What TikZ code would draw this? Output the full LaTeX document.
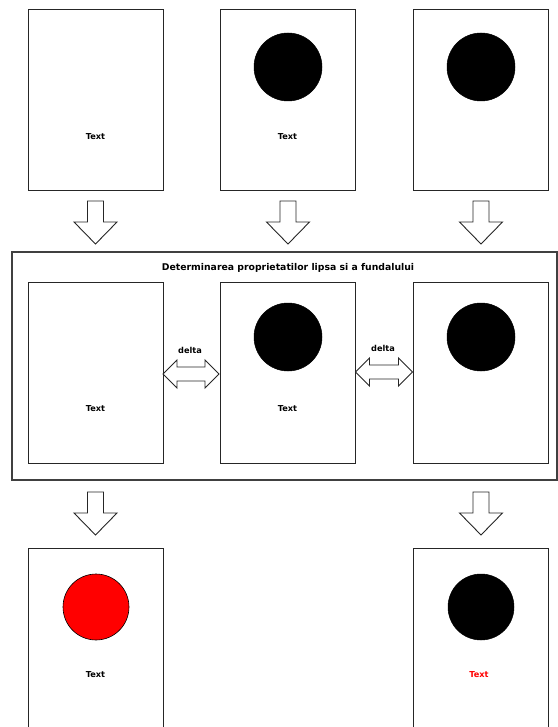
\documentclass[tikz,border=0pt]{standalone}
\usepackage{fontspec}
\setmainfont{DejaVu Sans}
\begin{document}
\begin{tikzpicture}[x=1pt,y=-1pt,
  box/.style={draw=black!85,line width=1pt,minimum width=135pt,minimum height=181pt,inner sep=0pt},
  lbl/.style={font=\fontsize{8.2}{9}\selectfont\bfseries,inner sep=0pt},
  ttl/.style={font=\fontsize{9.3}{10}\selectfont\bfseries,inner sep=0pt},
  blk/.style={fill=black,draw=black,line width=0.5pt},
  blkarrow/.style={draw=black!85,line width=0.9pt,fill=white,line join=miter},
  frame/.style={draw=black!75,line width=1.2pt}]
\useasboundingbox (0,0) rectangle (557,727);
% top row
\node[box] (t1) at (95.5,100.5) {};
\node[box] (t2) at (287.5,100.5) {};
\node[box] (t3) at (480.5,100.5) {};
\node[lbl] (t1l) at (95.5,137) {Text};
\node[lbl] (t2l) at (287.5,137) {Text};
\node[blk,circle,minimum size=68pt,inner sep=0pt] (t2c) at (288,67) {};
\node[blk,circle,minimum size=68pt,inner sep=0pt] (t3c) at (481,67) {};
% big frame
\node[frame,minimum width=545pt,minimum height=228pt,inner sep=0pt] (fr) at (284.5,366) {};
\node[ttl] (title) at (288,268) {Determinarea proprietatilor lipsa si a fundalului};
% middle row
\node[box] (m1) at (95.5,373) {};
\node[box] (m2) at (287.5,373) {};
\node[box] (m3) at (480.5,373) {};
\node[lbl] (m1l) at (95.5,409) {Text};
\node[lbl] (m2l) at (287.5,409) {Text};
\node[blk,circle,minimum size=68pt,inner sep=0pt] (m2c) at (288,337) {};
\node[blk,circle,minimum size=68pt,inner sep=0pt] (m3c) at (481,337) {};
\node[lbl] (d1) at (190,350) {delta};
\node[lbl] (d2) at (383,348) {delta};
% bottom row
\node[box,minimum height=200pt] (b1) at (95.5,648) {};
\node[box,minimum height=200pt] (b3) at (480.5,648) {};
\node[draw=black,line width=0.6pt,fill=red,circle,minimum size=66pt,inner sep=0pt] (b1c) at (96,607) {};
\node[blk,circle,minimum size=66pt,inner sep=0pt] (b3c) at (481,607) {};
\node[lbl] (b1l) at (95.5,675) {Text};
\node[lbl,text=red] (b3l) at (479,675) {Text};
% down block arrows
\foreach \cx/\ty in {95.5/201, 288/201, 481/201, 95.5/492, 481/492}{
  \draw[blkarrow] (\cx-8,\ty) -- (\cx+8,\ty) -- (\cx+8,\ty+21) -- (\cx+21.5,\ty+21)
    -- (\cx,\ty+43) -- (\cx-21.5,\ty+21) -- (\cx-8,\ty+21) -- cycle;
}
% double block arrows
\foreach \xa/\xb/\cy in {163/219/374, 355.5/412.5/372}{
  \draw[blkarrow] (\xa,\cy) -- (\xa+14,\cy-14) -- (\xa+14,\cy-7) -- (\xb-14,\cy-7)
    -- (\xb-14,\cy-14) -- (\xb,\cy) -- (\xb-14,\cy+14) -- (\xb-14,\cy+7)
    -- (\xa+14,\cy+7) -- (\xa+14,\cy+14) -- cycle;
}
\end{tikzpicture}
\end{document}
